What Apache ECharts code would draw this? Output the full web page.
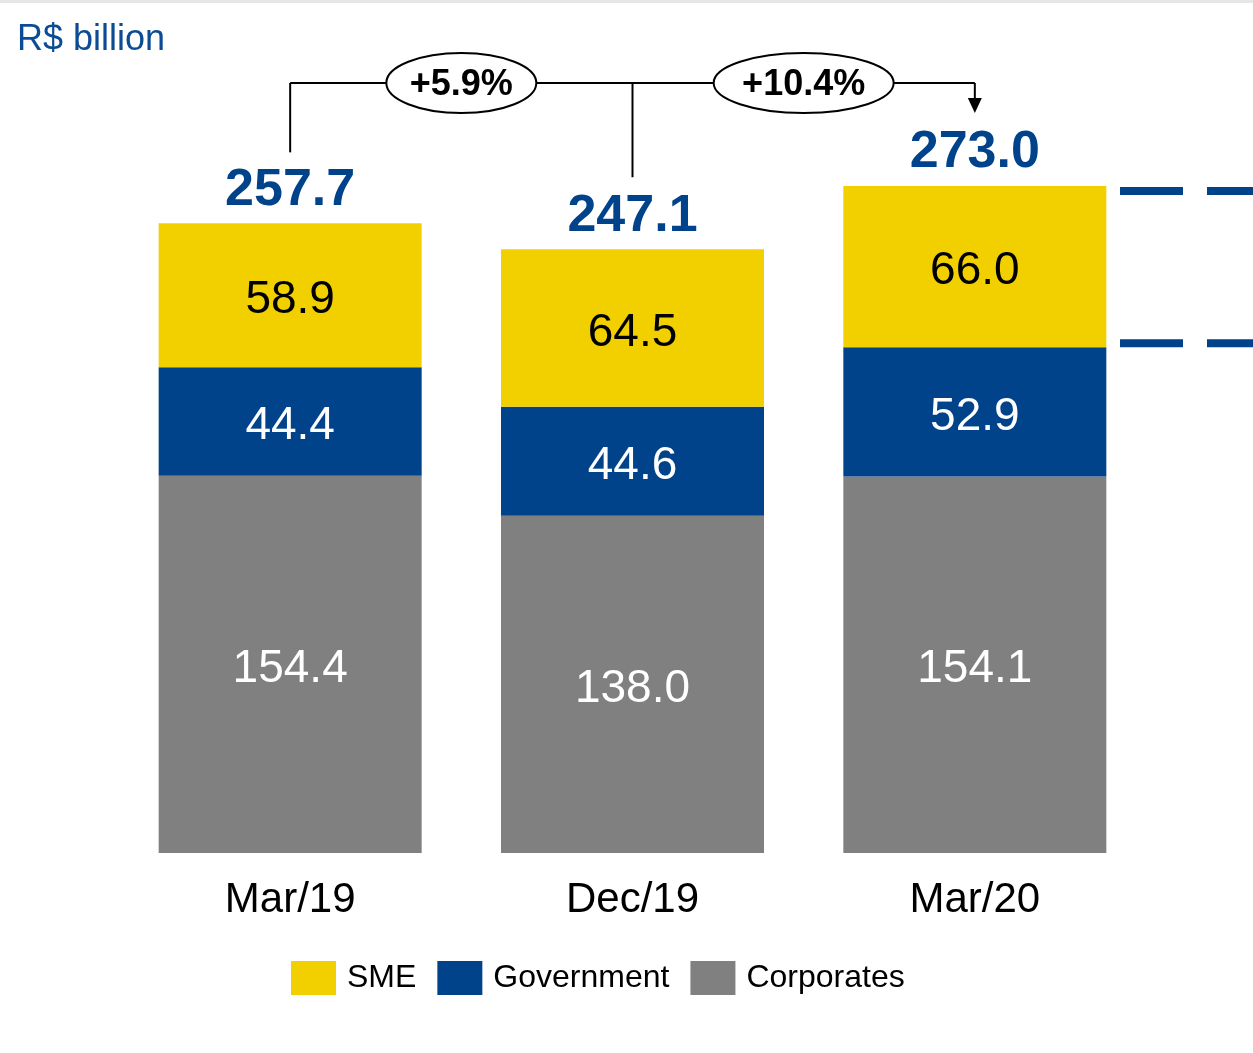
<!DOCTYPE html>
<html lang="en">
<head>
    <meta charset="UTF-8">
    <script src="https://cdn.jsdelivr.net/npm/echarts@6/dist/echarts.min.js"></script>
    <title>Loan portfolio</title>
    <style>
        html, body { margin: 0; padding: 0; background: #fff; }
    </style>
</head>
<body>
<div id="main" style="width: 1253px;height:1053px;"></div>
<script type="text/javascript">
    // data
    var categories = ['Mar/19', 'Dec/19', 'Mar/20'];
    var sme = [58.9, 64.5, 66.0];
    var government = [44.4, 44.6, 52.9];
    var corporates = [154.4, 138.0, 154.1];
    var totals = [257.7, 247.1, 273.0];
    var growth = ['+5.9%', '+10.4%'];

    var yellow = '#F2D000';
    var blue = '#00438A';
    var grey = '#808080';
    var font = 'Liberation Sans, Arial, sans-serif';

    var myChart = echarts.init(document.getElementById('main'));

    function segLabel(color) {
        return {
            show: true,
            position: 'inside',
            offset: [0, 5],
            color: color,
            fontSize: 46,
            fontFamily: font,
            formatter: function (p) { return p.value.toFixed(1); }
        };
    }

    var option = {
        animation: false,
        backgroundColor: '#fff',
        title: {
            text: 'R$ billion',
            left: 12,
            top: 17,
            textStyle: { color: '#0B4C94', fontSize: 36, fontWeight: 'normal', fontFamily: font }
        },
        legend: {
            data: ['SME', 'Government', 'Corporates'],
            left: 286,
            top: 956,
            itemWidth: 45,
            itemHeight: 34,
            itemGap: 21,
            icon: 'rect',
            textStyle: { fontSize: 32, color: '#000', fontFamily: font, padding: [0, 0, 0, 6] }
        },
        grid: { left: 119, right: 107, top: 120, bottom: 200 },
        xAxis: {
            type: 'category',
            data: categories,
            axisLine: { show: false },
            axisTick: { show: false },
            axisLabel: { fontSize: 42, color: '#000', fontFamily: font, margin: 26 }
        },
        yAxis: {
            type: 'value',
            min: 0,
            max: 300,
            show: false,
            splitLine: { show: false }
        },
        series: [
            {
                name: 'Corporates', type: 'bar', stack: 'total', barWidth: 263,
                data: corporates, itemStyle: { color: grey }, label: segLabel('#fff')
            },
            {
                name: 'Government', type: 'bar', stack: 'total', barWidth: 263,
                data: government, itemStyle: { color: blue }, label: segLabel('#fff')
            },
            {
                name: 'SME', type: 'bar', stack: 'total', barWidth: 263,
                data: sme, itemStyle: { color: yellow }, label: segLabel('#000')
            },
            {
                name: 'Total', type: 'scatter', data: totals, symbolSize: 0, silent: true,
                itemStyle: { opacity: 1, color: blue },
                label: {
                    show: true, position: 'top', distance: 7,
                    color: blue, fontSize: 52, fontWeight: 'bold', fontFamily: font,
                    formatter: function (p) { return p.value.toFixed(1); }
                }
            }
        ]
    };

    myChart.setOption(option);

    // growth bracket and side dashes, placed through the chart's own scales
    var lineY = 83;
    var xs = categories.map(function (c) { return myChart.convertToPixel({ xAxisIndex: 0 }, c); });
    var tops = totals.map(function (t) { return myChart.convertToPixel({ yAxisIndex: 0 }, t); });
    var stroke = { stroke: '#000', lineWidth: 2 };
    var els = [];

    els.push({ type: 'rect', shape: { x: 0, y: 0, width: 1253, height: 3 }, style: { fill: '#e6e6e6' } });
    els.push({ type: 'line', shape: { x1: xs[0], y1: lineY, x2: xs[2], y2: lineY }, style: stroke });
    els.push({ type: 'line', shape: { x1: xs[0], y1: lineY, x2: xs[0], y2: tops[0] - 71 }, style: stroke });
    els.push({ type: 'line', shape: { x1: xs[1], y1: lineY, x2: xs[1], y2: tops[1] - 72 }, style: stroke });
    els.push({ type: 'line', shape: { x1: xs[2], y1: lineY, x2: xs[2], y2: tops[2] - 86 }, style: stroke });
    els.push({
        type: 'polygon',
        shape: { points: [[xs[2] - 7, tops[2] - 88], [xs[2] + 7, tops[2] - 88], [xs[2], tops[2] - 73]] },
        style: { fill: '#000' }
    });
    for (var i = 0; i < growth.length; i++) {
        var cx = (xs[i] + xs[i + 1]) / 2;
        var rx = i === 0 ? 75 : 90;
        els.push({
            type: 'ellipse', shape: { cx: cx, cy: lineY, rx: rx, ry: 30 },
            style: { fill: '#fff', stroke: '#000', lineWidth: 2 }
        });
        els.push({
            type: 'text', x: cx, y: lineY + 2,
            style: {
                text: growth[i], fill: '#000', font: 'bold 36px ' + font,
                align: 'center', verticalAlign: 'middle'
            }
        });
    }

    // dashed markers to the right of the last bar
    var yTop = myChart.convertToPixel({ yAxisIndex: 0 }, totals[2]) + 5;
    var yMid = myChart.convertToPixel({ yAxisIndex: 0 }, government[2] + corporates[2]) - 4;
    [yTop, yMid].forEach(function (y) {
        els.push({
            type: 'line', shape: { x1: 1120, y1: y, x2: 1260, y2: y },
            style: { stroke: blue, lineWidth: 8, lineDash: [63, 24] }
        });
    });

    myChart.setOption({ graphic: { elements: els } });
</script>
</body>
</html>
